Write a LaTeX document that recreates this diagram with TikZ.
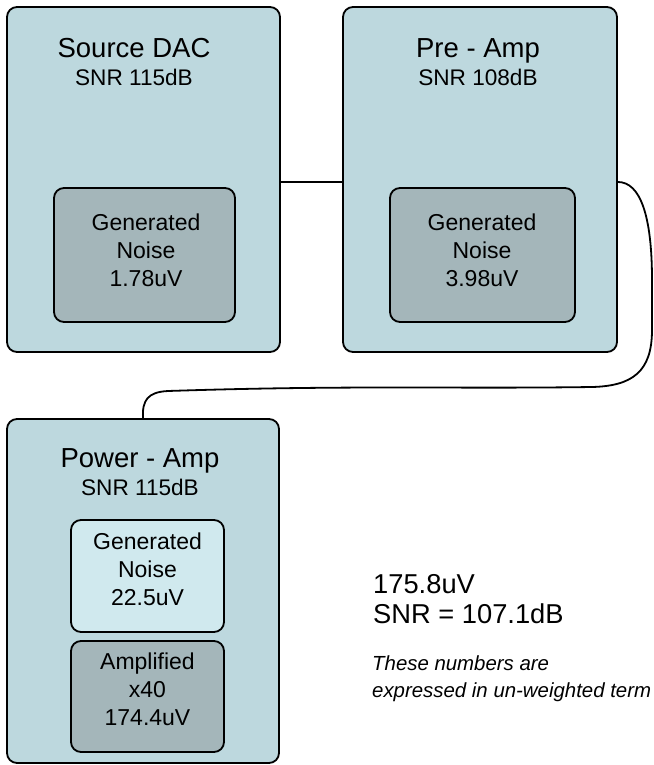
\documentclass[tikz,border=0pt]{standalone}
\usepackage{fontspec}
\setmainfont{Liberation Sans}
\definecolor{outerc}{RGB}{189,216,222}
\definecolor{innerd}{RGB}{164,182,186}
\definecolor{innerl}{RGB}{208,233,238}
\begin{document}
\begin{tikzpicture}[x=1pt,y=-1pt,
  box/.style={draw=black, line width=1.8pt, rounded corners=10pt, inner sep=0pt},
  outerbox/.style={box, fill=outerc},
  darkbox/.style={box, fill=innerd},
  lightbox/.style={box, fill=innerl},
  titletext/.style={font=\fontsize{27.5}{30}\selectfont, inner sep=0pt, anchor=base},
  subtext/.style={font=\fontsize{22.6}{26}\selectfont, inner sep=0pt, anchor=base},
  innertext/.style={font=\fontsize{23}{27.8}\selectfont, align=center, inner sep=0pt},
  bigtext/.style={font=\fontsize{27.3}{30}\selectfont, inner sep=0pt, anchor=base west},
  notetext/.style={font=\fontsize{20.4}{27}\selectfont\itshape, inner sep=0pt, anchor=base west},
  wire/.style={line width=1.8pt}]
\useasboundingbox (0,0) rectangle (653,765);
% outer boxes
\node[outerbox, minimum width=273pt, minimum height=345pt] (src) at (143.5,179.5) {};
\node[outerbox, minimum width=274pt, minimum height=345pt] (pre) at (480,179.5) {};
\node[outerbox, minimum width=272pt, minimum height=344pt] (pow) at (143,591) {};
% inner boxes
\node[darkbox, minimum width=181pt, minimum height=134pt] (srcN) at (144.5,255) {};
\node[darkbox, minimum width=185pt, minimum height=134pt] (preN) at (482.5,255) {};
\node[lightbox, minimum width=153pt, minimum height=112pt] (powN) at (147.5,576) {};
\node[darkbox, minimum width=153pt, minimum height=111pt] (powA) at (147.5,696.5) {};
% titles
\node[titletext] (srcT) at (134,58) {Source DAC};
\node[subtext] (srcS) at (134,86) {SNR 115dB};
\node[titletext] (preT) at (478,58) {Pre - Amp};
\node[subtext] (preS) at (478,86) {SNR 108dB};
\node[titletext] (powT) at (140,467) {Power - Amp};
\node[subtext] (powS) at (140,495) {SNR 115dB};
% inner texts
\node[innertext] (srcNT) at (146,250) {Generated\\Noise\\1.78uV};
\node[innertext] (preNT) at (482,250) {Generated\\Noise\\3.98uV};
\node[innertext] (powNT) at (147.5,569) {Generated\\Noise\\22.5uV};
\node[innertext] (powAT) at (147.5,689.5) {Amplified\\x40\\174.4uV};
% right texts
\node[bigtext] (tot) at (373,593) {175.8uV};
\node[bigtext] (snr) at (373,623) {SNR = 107.1dB};
\node[notetext] (n1) at (372,670) {These numbers are};
\node[notetext] (n2) at (372,697) {expressed in un-weighted term};
% connectors
\draw[wire] (src.east |- 0,182) coordinate (a1) -- (pre.west |- a1);
\draw[wire] (pre.east |- 0,182)
  .. controls (640,182) and (652,215) .. (652,280)
  -- (652,330)
  .. controls (652,372) and (632,386) .. (592,387)
  .. controls (450,389) and (350,385) .. (168,391)
  .. controls (148,392) and (142,400) .. (pow.north);
\end{tikzpicture}
\end{document}
